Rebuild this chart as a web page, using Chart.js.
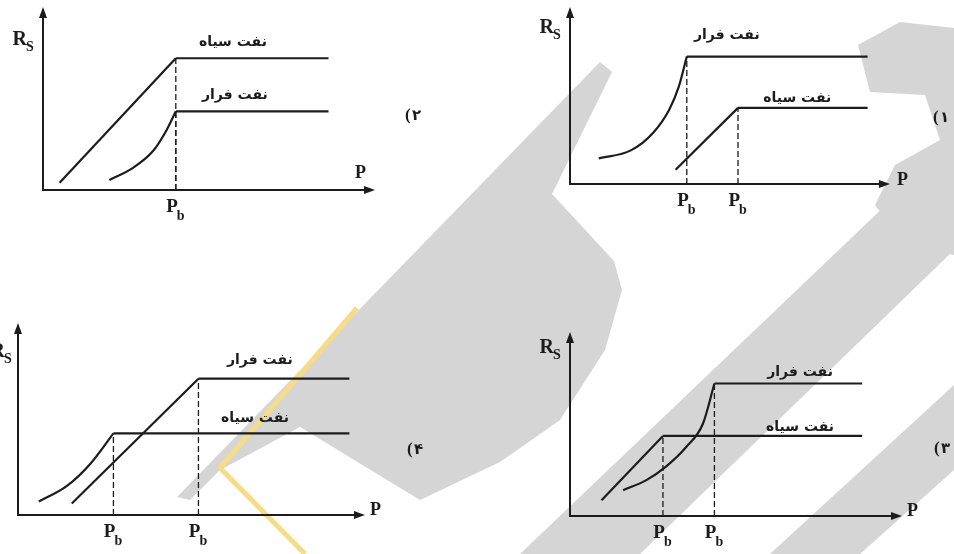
<!DOCTYPE html>
<html>
<head>
<meta charset="utf-8">
<script src="https://cdn.jsdelivr.net/npm/chart.js@4.4.1/dist/chart.umd.min.js"></script>
<style>
    html, body { margin: 0; padding: 0; background: #fff; }
    #page { position: relative; width: 954px; height: 554px; overflow: hidden; }
    #mark { position: absolute; left: 0; top: 0; }
    .panel { position: absolute; width: 477px; height: 277px; }
</style>
</head>
<body>
<div id="page">
    <!-- watermark of the source page, drawn only as background -->
    <svg id="mark" width="954" height="554">
        <g fill="#d5d5d5">
            <polygon points="177,497 600,62 612,72 552,194 614,261 622,290 605,350 560,420 500,462 420,500 300,427 220,470 190,500" />
            <polygon points="520,554 954,140 954,250 640,554" />
            <polygon points="770,554 954,385 954,470 860,554" />
            <polygon points="858,45 900,22 954,28 954,255 905,245 875,205 895,165 940,140 925,95 870,92" />
        </g>
        <polyline points="357,308 220,468 305,554" fill="none" stroke="#f6dc86" stroke-width="5" />
    </svg>
    <div class="panel" style="left:0;top:0"><canvas id="chart2"></canvas></div>
    <div class="panel" style="left:477px;top:0"><canvas id="chart1"></canvas></div>
    <div class="panel" style="left:0;top:277px"><canvas id="chart4"></canvas></div>
    <div class="panel" style="left:477px;top:277px"><canvas id="chart3"></canvas></div>
</div>
<script>
// every panel uses axes from 0 to 10 in both directions
const blackLabel = 'نفت سیاه'
const volatileLabel = 'نفت فرار'

// panel 1
const p1VolRiseX = [0.9, 1.9, 2.6, 3.1, 3.4, 3.65]
const p1VolRiseY = [1.45, 1.9, 2.9, 4.2, 5.5, 7.2]
const p1BlackRiseX = [3.3, 5.25]
const p1BlackRiseY = [0.8, 4.3]
const p1PlateauEnd = 9.3

// panel 2
const p2VolRiseX = [2.0, 2.7, 3.3, 3.7, 4.0]
const p2VolRiseY = [0.55, 1.2, 2.1, 3.2, 4.3]
const p2BlackRiseX = [0.5, 4.0]
const p2BlackRiseY = [0.4, 7.2]
const p2PlateauEnd = 8.6

// panel 3
const p3VolRiseX = [1.6, 2.3, 2.9, 3.5, 4.0, 4.35]
const p3VolRiseY = [1.4, 1.95, 2.7, 3.75, 5.0, 7.2]
const p3BlackRiseX = [0.95, 2.8]
const p3BlackRiseY = [0.85, 4.35]
const p3PlateauEnd = 8.8

// panel 4
const p4VolRiseX = [1.55, 5.2]
const p4VolRiseY = [0.6, 7.1]
const p4BlackRiseX = [0.6, 1.4, 2.1, 2.75]
const p4BlackRiseY = [0.7, 1.5, 2.7, 4.25]
const p4PlateauEnd = 9.55

const ink = '#1c1c1c'
const serif = '"Liberation Serif", "Times New Roman", serif'
const persian = '"DejaVu Sans", sans-serif'

const pts = (xs, ys) => xs.map((x, i) => ({ x: x, y: ys[i] }))

const line = (data, extra) => Object.assign({
    data: data,
    showLine: true,
    pointRadius: 0,
    borderColor: ink,
    borderWidth: 2.2,
    tension: 0,
    clip: false
}, extra || {})

// rise up to Pb, flat after it, dashed drop to the P axis
const oil = (riseX, riseY, end, curved) => {
    const last = riseX.length - 1
    const pbX = riseX[last]
    const top = riseY[last]
    return [
        line(pts(riseX, riseY), curved ? { cubicInterpolationMode: 'monotone' } : {}),
        line([{ x: pbX, y: top }, { x: end, y: top }]),
        line([{ x: pbX, y: 0 }, { x: pbX, y: top }], { borderDash: [6, 3], borderWidth: 1.3 })
    ]
}

const sketch = {
    id: 'sketch',
    beforeDatasetsDraw(chart, args, o) {
        const { ctx, scales: { x, y } } = chart
        const x0 = x.getPixelForValue(0), x1 = x.getPixelForValue(10)
        const y0 = y.getPixelForValue(0), y1 = y.getPixelForValue(10)
        ctx.save()
        ctx.strokeStyle = ink
        ctx.fillStyle = ink
        ctx.lineWidth = 2
        ctx.beginPath()
        ctx.moveTo(x0, y1 + 4)
        ctx.lineTo(x0, y0)
        ctx.lineTo(x1 - 4, y0)
        ctx.stroke()
        // arrow heads
        ctx.beginPath()
        ctx.moveTo(x0, y1)
        ctx.lineTo(x0 - 4, y1 + 11)
        ctx.lineTo(x0 + 4, y1 + 11)
        ctx.closePath()
        ctx.fill()
        ctx.beginPath()
        ctx.moveTo(x1, y0)
        ctx.lineTo(x1 - 11, y0 - 4)
        ctx.lineTo(x1 - 11, y0 + 4)
        ctx.closePath()
        ctx.fill()
        ctx.restore()
    },
    afterDatasetsDraw(chart, args, o) {
        const { ctx, scales: { x, y } } = chart
        const x0 = x.getPixelForValue(0), x1 = x.getPixelForValue(10)
        const y0 = y.getPixelForValue(0), y1 = y.getPixelForValue(10)
        ctx.save()
        ctx.fillStyle = ink
        ctx.textBaseline = 'alphabetic'

        // R_S title
        const rx = x0 - 16 + (o.rsShift || 0)
        ctx.font = 'bold 20px ' + serif
        ctx.textAlign = 'right'
        ctx.fillText('R', rx, y1 + o.rsDrop)
        ctx.font = 'bold 14px ' + serif
        ctx.textAlign = 'left'
        ctx.fillText('S', rx - 1, y1 + o.rsDrop + 6)

        // P title
        ctx.font = 'bold 18px ' + serif
        ctx.fillText('P', x1 + o.pShift[0], y0 + o.pShift[1])

        // P_b under each dashed line
        o.pb.forEach(v => {
            const px = x.getPixelForValue(v)
            ctx.font = 'bold 19px ' + serif
            ctx.textAlign = 'right'
            ctx.fillText('P', px + 2, y0 + 22)
            ctx.font = 'bold 14px ' + serif
            ctx.textAlign = 'left'
            ctx.fillText('b', px + 1, y0 + 30)
        })

        // curve names
        ctx.font = 'bold 14px ' + persian
        ctx.textAlign = 'center'
        ctx.textBaseline = 'middle'
        o.names.forEach(n => {
            ctx.fillText(n[0], x.getPixelForValue(n[1]), y.getPixelForValue(n[2]))
        })

        // option number, bracket and digit drawn apart to keep their order
        ctx.textAlign = 'left'
        ctx.font = 'bold 17px ' + serif
        ctx.fillText('(', o.tagAt[0] - 7, o.tagAt[1])
        ctx.font = 'bold 15px ' + persian
        ctx.fillText(o.tag, o.tagAt[0], o.tagAt[1])
        ctx.restore()
    }
}

const panel = (id, datasets, pad, opts) => {
    new Chart(document.getElementById(id), {
        type: 'scatter',
        data: { datasets: datasets },
        plugins: [sketch],
        options: {
            responsive: true,
            maintainAspectRatio: false,
            animation: false,
            layout: { padding: pad },
            scales: {
                x: { type: 'linear', min: 0, max: 10, display: false },
                y: { type: 'linear', min: 0, max: 10, display: false }
            },
            plugins: {
                colors: { enabled: false },
                legend: { display: false },
                tooltip: { enabled: false },
                sketch: opts
            }
        }
    })
}

panel('chart1',
    oil(p1VolRiseX, p1VolRiseY, p1PlateauEnd, true).concat(oil(p1BlackRiseX, p1BlackRiseY, p1PlateauEnd, false)),
    { left: 93, top: 7, right: 64, bottom: 93 },
    {
        pb: [p1VolRiseX[p1VolRiseX.length - 1], p1BlackRiseX[1]],
        names: [[volatileLabel, 4.9, 8.4], [blackLabel, 7.1, 4.86]],
        rsDrop: 26, pShift: [7, 1], tag: '۱', tagAt: [463, 118]
    })

panel('chart2',
    oil(p2VolRiseX, p2VolRiseY, p2PlateauEnd, true).concat(oil(p2BlackRiseX, p2BlackRiseY, p2PlateauEnd, false)),
    { left: 43, top: 7, right: 102, bottom: 87 },
    {
        pb: [p2BlackRiseX[1]],
        names: [[blackLabel, 5.72, 8.09], [volatileLabel, 5.78, 5.19]],
        rsDrop: 38, pShift: [-20, -12], tag: '۲', tagAt: [412, 116]
    })

panel('chart3',
    oil(p3VolRiseX, p3VolRiseY, p3PlateauEnd, true).concat(oil(p3BlackRiseX, p3BlackRiseY, p3PlateauEnd, false)),
    { left: 93, top: 55, right: 52, bottom: 38 },
    {
        pb: [p3BlackRiseX[1], p3VolRiseX[p3VolRiseX.length - 1]],
        names: [[volatileLabel, 6.93, 7.83], [blackLabel, 6.93, 4.84]],
        rsDrop: 21, pShift: [5, 0], tag: '۳', tagAt: [464, 172]
    })

panel('chart4',
    oil(p4VolRiseX, p4VolRiseY, p4PlateauEnd, false).concat(oil(p4BlackRiseX, p4BlackRiseY, p4PlateauEnd, true)),
    { left: 18, top: 46, right: 112, bottom: 39 },
    {
        pb: [p4BlackRiseX[p4BlackRiseX.length - 1], p4VolRiseX[1]],
        names: [[volatileLabel, 6.97, 8.07], [blackLabel, 6.83, 5.05]],
        rsDrop: 34, rsShift: 3, pShift: [5, 0], tag: '۴', tagAt: [414, 173]
    })
</script>
</body>
</html>
